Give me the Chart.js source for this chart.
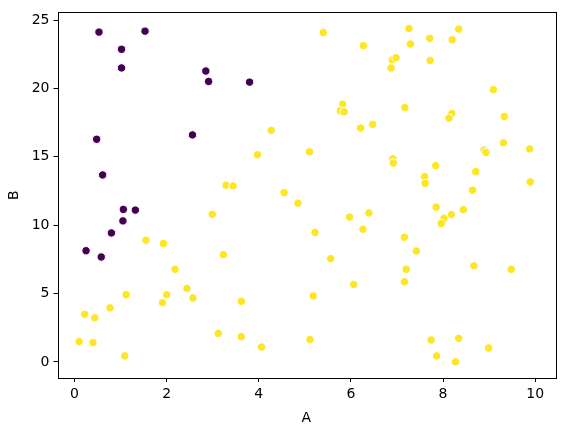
<!DOCTYPE html>
<html>
<head>
<meta charset="utf-8">
<script src="https://cdn.jsdelivr.net/npm/chart.js@4/dist/chart.umd.min.js"></script>
<style>
  html, body { margin: 0; padding: 0; background: #fff; }
  canvas { display: block; }
</style>
</head>
<body>
<canvas id="chart" width="562" height="432"></canvas>
<script>
// scatter of B against A, two colour groups
const purpleA = [0.53, 1.53, 1.02, 1.02, 2.85, 2.91, 0.48, 2.56, 0.61, 3.80, 1.06, 1.32, 1.05, 0.80, 0.25, 0.58];
const purpleB = [24.12, 24.19, 22.86, 21.5, 21.27, 20.51, 16.28, 16.6, 13.67, 20.46, 11.15, 11.1, 10.31, 9.43, 8.13, 7.67];

const yellowA = [
  5.40, 6.27, 5.82, 5.77, 5.85, 6.21, 6.47, 4.27, 3.97, 5.10, 3.29, 3.44, 4.55,
  7.26, 8.34, 7.71, 8.20, 7.29, 6.90, 6.98, 6.87, 7.72, 9.09, 7.17, 8.19, 8.13,
  9.33, 9.31, 9.88, 8.89, 8.93, 6.91, 6.92, 7.84, 8.71, 7.60, 7.61, 9.89, 8.64,
  2.99, 1.55, 1.93, 3.23, 2.18, 2.44, 2.57, 1.12, 2.00, 1.91, 0.77, 0.22, 0.44,
  3.12, 0.10, 0.40, 1.09, 4.85, 5.97, 6.39, 5.22, 6.26, 5.56, 6.06, 3.62, 5.18,
  3.62, 4.06, 5.11, 7.85, 8.44, 8.18, 8.02, 7.96, 7.16, 7.42, 7.20, 8.67, 9.48,
  7.16, 7.74, 8.34, 8.99, 7.86, 8.27
];
const yellowB = [
  24.09, 23.13, 18.85, 18.36, 18.29, 17.1, 17.37, 16.93, 15.15, 15.36, 12.92, 12.87, 12.37,
  24.38, 24.34, 23.66, 23.56, 23.25, 22.09, 22.24, 21.5, 22.04, 19.91, 18.6, 18.17, 17.83,
  17.95, 16.02, 15.58, 15.49, 15.31, 14.85, 14.54, 14.35, 13.91, 13.55, 13.06, 13.16, 12.56,
  10.79, 8.90, 8.66, 7.84, 6.77, 5.37, 4.67, 4.91, 4.91, 4.33, 3.95, 3.48, 3.22,
  2.08, 1.48, 1.41, 0.44, 11.61, 10.59, 10.89, 9.46, 9.70, 7.55, 5.66, 4.43, 4.82,
  1.84, 1.09, 1.63, 11.32, 11.13, 10.77, 10.50, 10.12, 9.12, 8.11, 6.77, 7.02, 6.77,
  5.86, 1.60, 1.72, 1.02, 0.44, 0.0
];

const xTicks = [0, 2, 4, 6, 8, 10];
const yTicks = [0, 5, 10, 15, 20, 25];

const toPoints = (xs, ys) => xs.map((x, i) => ({ x: x, y: ys[i] }));

// full box around the plot area, like matplotlib's spines
const frame = {
  id: "frame",
  afterDraw(chart) {
    const { ctx, chartArea: a } = chart;
    ctx.save();
    ctx.strokeStyle = "#000";
    ctx.lineWidth = 1;
    ctx.strokeRect(Math.round(a.left) + 0.5, Math.round(a.top) + 0.5,
      Math.round(a.right - a.left), Math.round(a.bottom - a.top));
    ctx.restore();
  }
};

const font = { family: "DejaVu Sans", size: 14 };

new Chart(document.getElementById("chart"), {
  type: "scatter",
  data: {
    datasets: [
      {
        data: toPoints(purpleA, purpleB),
        backgroundColor: "#440154",
        borderColor: "#ffffff",
        borderWidth: 1,
        pointRadius: 4.2
      },
      {
        data: toPoints(yellowA, yellowB),
        backgroundColor: "#fde725",
        borderColor: "#ffffff",
        borderWidth: 1,
        pointRadius: 4.2
      }
    ]
  },
  options: {
    responsive: false,
    devicePixelRatio: 1,
    animation: false,
    layout: { padding: { left: 0, right: 7, top: 10, bottom: 0 } },
    plugins: { legend: { display: false }, tooltip: { enabled: false } },
    scales: {
      x: {
        type: "linear",
        min: -0.37,
        max: 10.43,
        afterBuildTicks: (s) => { s.ticks = xTicks.map(v => ({ value: v })); },
        afterFit: (s) => { s.height = 54; },
        border: { display: false },
        grid: { drawOnChartArea: false, drawTicks: true, tickLength: 4, color: "#000" },
        ticks: { color: "#000", font: font, padding: 4, maxRotation: 0 },
        title: { display: true, text: "A", color: "#000", font: font, padding: { top: 0, bottom: 5 } }
      },
      y: {
        type: "linear",
        min: -1.18,
        max: 25.56,
        afterBuildTicks: (s) => { s.ticks = yTicks.map(v => ({ value: v })); },
        afterFit: (s) => { s.width = 57.5; },
        border: { display: false },
        grid: { drawOnChartArea: false, drawTicks: true, tickLength: 4, color: "#000" },
        ticks: { color: "#000", font: font, padding: 4 },
        title: { display: true, text: "B", color: "#000", font: font, padding: { top: 6, bottom: 0 } }
      }
    }
  },
  plugins: [frame]
});
</script>
</body>
</html>
